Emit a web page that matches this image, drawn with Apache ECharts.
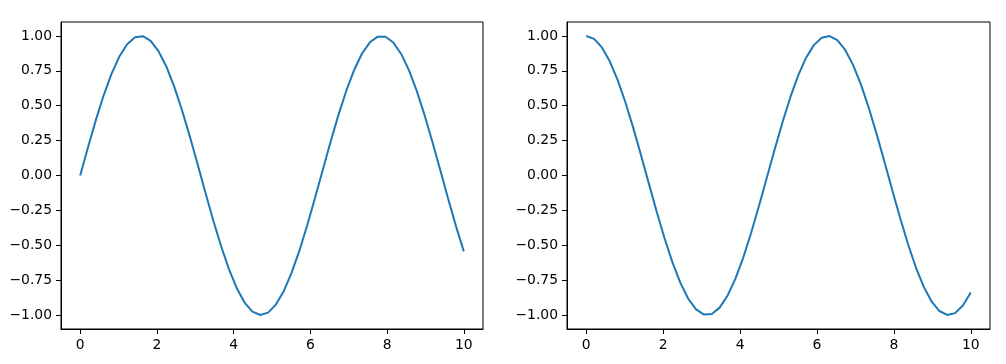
<!DOCTYPE html>
<html>
<head>
<meta charset="utf-8">
<script src="https://cdn.jsdelivr.net/npm/echarts@6/dist/echarts.min.js"></script>
<style>
html,body{margin:0;padding:0;background:#fff;}
#chart{width:1006px;height:364px;}
</style>
</head>
<body>
<div id="chart"></div>
<script>
const xValues = [0, 0.2041, 0.4082, 0.6122, 0.8163, 1.0204, 1.2245, 1.4286, 1.6327, 1.8367,
  2.0408, 2.2449, 2.4490, 2.6531, 2.8571, 3.0612, 3.2653, 3.4694, 3.6735, 3.8776,
  4.0816, 4.2857, 4.4898, 4.6939, 4.8980, 5.1020, 5.3061, 5.5102, 5.7143, 5.9184,
  6.1224, 6.3265, 6.5306, 6.7347, 6.9388, 7.1429, 7.3469, 7.5510, 7.7551, 7.9592,
  8.1633, 8.3673, 8.5714, 8.7755, 8.9796, 9.1837, 9.3878, 9.5918, 9.7959, 10];
const sinValues = [0, 0.2027, 0.3969, 0.5747, 0.7286, 0.8523, 0.9406, 0.9899, 0.9981, 0.9648,
  0.8916, 0.7813, 0.6386, 0.4693, 0.2806, 0.0803, -0.1234, -0.3220, -0.5072, -0.6713,
  -0.8076, -0.9104, -0.9753, -0.9998, -0.9828, -0.9250, -0.8289, -0.6983, -0.5387, -0.3568,
  -0.1600, 0.0433, 0.2449, 0.4363, 0.6096, 0.7576, 0.8742, 0.9545, 0.9951, 0.9945,
  0.9526, 0.8711, 0.7535, 0.6046, 0.4306, 0.2388, 0.0370, -0.1663, -0.3627, -0.5440];
const cosValues = [1, 0.9792, 0.9179, 0.8184, 0.6849, 0.5230, 0.3394, 0.1417, -0.0618, -0.2628,
  -0.4529, -0.6242, -0.7696, -0.8830, -0.9598, -0.9968, -0.9924, -0.9468, -0.8619, -0.7412,
  -0.5898, -0.4138, -0.2208, -0.0185, 0.1845, 0.3799, 0.5595, 0.7158, 0.8425, 0.9342,
  0.9871, 0.9991, 0.9696, 0.8998, 0.7927, 0.6527, 0.4856, 0.2984, 0.0987, -0.1050,
  -0.3044, -0.4911, -0.6575, -0.7965, -0.9025, -0.9711, -0.9993, -0.9861, -0.9319, -0.8391];
const xTicks = [0, 2, 4, 6, 8, 10];
const yTicks = [-1.00, -0.75, -0.50, -0.25, 0.00, 0.25, 0.50, 0.75, 1.00];

const chart = echarts.init(document.getElementById('chart'), null, {renderer: 'canvas'});
const font = 'DejaVu Sans';
function xAxisCfg(idx) {
  return {
    type: 'value', gridIndex: idx, min: -0.5, max: 10.5,
    axisLine: {show: true, onZero: false, lineStyle: {color: '#000', width: 1}},
    axisTick: {show: true, length: 5, inside: false, customValues: xTicks, lineStyle: {color: '#000', width: 1}},
    axisLabel: {show: true, customValues: xTicks, margin: 9, color: '#000', fontFamily: font, fontSize: 13.9,
      formatter: v => String(Math.round(v))},
    splitLine: {show: false}
  };
}
function yAxisCfg(idx) {
  return {
    type: 'value', gridIndex: idx, min: -1.1, max: 1.1,
    axisLine: {show: true, onZero: false, lineStyle: {color: '#000', width: 1}},
    axisTick: {show: true, length: 5, inside: false, customValues: yTicks, lineStyle: {color: '#000', width: 1}},
    axisLabel: {show: true, customValues: yTicks, margin: 9, color: '#000', fontFamily: font, fontSize: 13.9,
      formatter: v => (Math.abs(v) < 1e-9 ? 0 : v).toFixed(2).replace('-', '\u2212')},
    splitLine: {show: false}
  };
}
const option = {
  animation: false,
  backgroundColor: '#fff',
  grid: [
    {left: 61, top: 22, width: 422, height: 307, show: true, borderColor: '#000', borderWidth: 1, backgroundColor: 'transparent'},
    {left: 567, top: 22, width: 423, height: 307, show: true, borderColor: '#000', borderWidth: 1, backgroundColor: 'transparent'}
  ],
  xAxis: [xAxisCfg(0), xAxisCfg(1)],
  yAxis: [yAxisCfg(0), yAxisCfg(1)],
  series: [
    {type: 'line', xAxisIndex: 0, yAxisIndex: 0, showSymbol: false,
      data: xValues.map((x, i) => [x, sinValues[i]]),
      lineStyle: {color: '#1f77b4', width: 2}, itemStyle: {color: '#1f77b4'}},
    {type: 'line', xAxisIndex: 1, yAxisIndex: 1, showSymbol: false,
      data: xValues.map((x, i) => [x, cosValues[i]]),
      lineStyle: {color: '#1f77b4', width: 2}, itemStyle: {color: '#1f77b4'}}
  ]
};
chart.setOption(option);
</script>
</body>
</html>
